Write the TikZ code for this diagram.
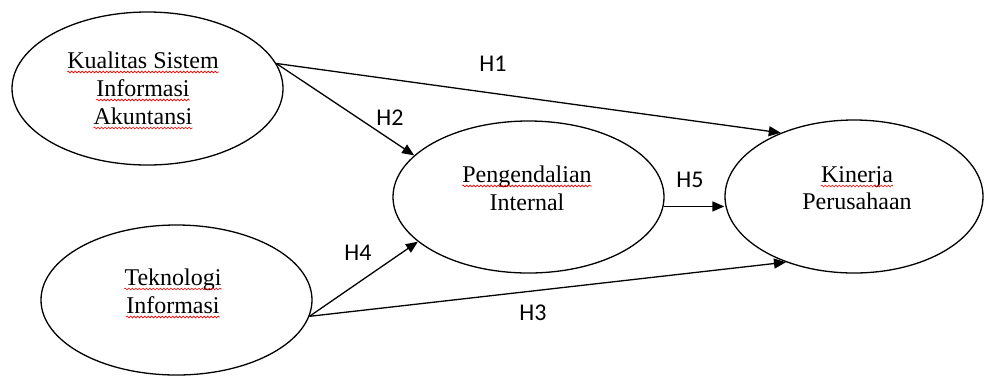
\documentclass[tikz,border=0pt]{standalone}
\usepackage{fontspec}
\setmainfont{Liberation Serif}
\newfontfamily\calib{Carlito}
\usetikzlibrary{arrows.meta,decorations.pathmorphing,shapes.geometric}
\begin{document}
\begin{tikzpicture}[x=1pt,y=-1pt,
  ell/.style={draw,ellipse,line width=1.3pt,inner sep=0pt},
  txt/.style={inner sep=0pt,anchor=base,font=\fontsize{24}{28}\selectfont},
  hyp/.style={font=\calib\fontsize{24}{28}\selectfont,inner sep=0pt},
  arr/.style={line width=1.3pt,-{Triangle[length=12pt,width=10pt]}},
  wavy/.style={red,line width=0.6pt,decorate,decoration={snake,amplitude=0.9pt,segment length=3.5pt}}]
\useasboundingbox (0,0) rectangle (984,376);
% ellipses
\node[ell,minimum width=271pt,minimum height=153pt] (ksia) at (147.5,88.5) {};
\node[ell,minimum width=271pt,minimum height=150pt] (ti) at (176.5,300) {};
\node[ell,minimum width=271pt,minimum height=152pt] (pi) at (528.5,197) {};
\node[ell,minimum width=258pt,minimum height=153pt] (kp) at (854,196.5) {};
% texts
\node[txt] (k1) at (143,68) {Kualitas Sistem};
\node[txt] (k2) at (143,96) {Informasi};
\node[txt] (k3) at (143,124) {Akuntansi};
\node[txt] (t1) at (173,285) {Teknologi};
\node[txt] (t2) at (173,313) {Informasi};
\node[txt] (p1) at (527,182) {Pengendalian};
\node[txt] (p2) at (527,210) {Internal};
\node[txt] (q1) at (857,182) {Kinerja};
\node[txt] (q2) at (857,209) {Perusahaan};
% spell-check underlines
\foreach \n in {k1,k2,k3,t1,t2,p1,q1}{
  \draw[wavy] ([yshift=-4pt]\n.base west) -- ([yshift=-4pt]\n.base east);
}
% connectors
\draw[arr] (ksia.11.3) -- (kp.139);
\draw[arr] (ksia.11.3) -- (pi.160);
\draw[arr] (ti.-7.3) -- (pi.-158.7);
\draw[arr] (ti.-7.3) -- (kp.-136.5);
\draw[arr] (pi.-4) -- (pi.-4 -| kp.west);
% hypothesis labels
\node[hyp] (h1) at (493,64) {H1};
\node[hyp] (h2) at (390,118) {H2};
\node[hyp] (h3) at (533,313) {H3};
\node[hyp] (h4) at (358,253) {H4};
\node[hyp] (h5) at (690,180) {H5};
\end{tikzpicture}
\end{document}
